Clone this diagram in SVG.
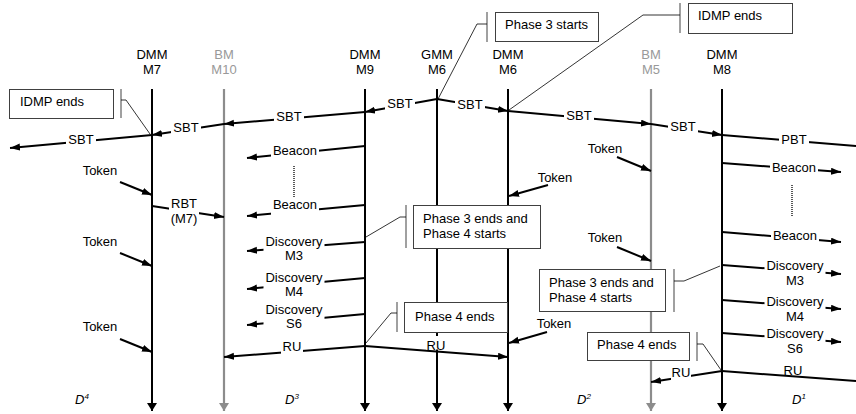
<svg xmlns="http://www.w3.org/2000/svg" width="856" height="414" viewBox="0 0 856 414">
<style>
.t{font-family:"Liberation Sans",Arial,Helvetica,sans-serif;font-size:13px;fill:#000}
.gt{fill:#999}
.c{text-anchor:middle}
.it{font-style:italic}
.ll{stroke:#000;stroke-width:2;marker-end:url(#lb)}
.llg{stroke:#8c8c8c;stroke-width:2.2;marker-end:url(#lg)}
.m{stroke:#000;stroke-width:2;fill:none}
.a{marker-end:url(#ab)}
.ldr{stroke:#000;stroke-width:0.8;fill:none}
.brk{stroke:#808080;stroke-width:1.5}
.box{fill:#fff;stroke:#404040;stroke-width:1}
.bg{fill:#fff}
.dot{stroke:#000;stroke-width:1.3;stroke-dasharray:1 1}
</style>
<defs>
<marker id="ab" markerUnits="userSpaceOnUse" markerWidth="11" markerHeight="8" refX="10" refY="3.5" orient="auto"><path d="M0,0 L10,3.5 L0,7 z" fill="#000"/></marker>
<marker id="lb" markerUnits="userSpaceOnUse" markerWidth="9" markerHeight="10" refX="8" refY="5" orient="auto"><path d="M0,0 L8,5 L0,10 z" fill="#000"/></marker>
<marker id="lg" markerUnits="userSpaceOnUse" markerWidth="9" markerHeight="10" refX="8" refY="5" orient="auto"><path d="M0,0 L8,5 L0,10 z" fill="#8c8c8c"/></marker>
</defs>

<g id="n-dmm-m7"><text class="t c" x="152" y="59">DMM</text><text class="t c" x="152" y="74">M7</text><line class="ll" x1="152" y1="89" x2="152" y2="411"/></g>
<g id="n-bm-m10"><text class="t c gt" x="224" y="59">BM</text><text class="t c gt" x="224" y="74">M10</text><line class="llg" x1="224" y1="89" x2="224" y2="411"/></g>
<g id="n-dmm-m9"><text class="t c" x="365" y="59">DMM</text><text class="t c" x="365" y="74">M9</text><line class="ll" x1="365" y1="89" x2="365" y2="411"/></g>
<g id="n-gmm-m6"><text class="t c" x="437" y="59">GMM</text><text class="t c" x="437" y="74">M6</text><line class="ll" x1="437" y1="89" x2="437" y2="411"/></g>
<g id="n-dmm-m6"><text class="t c" x="508" y="59">DMM</text><text class="t c" x="508" y="74">M6</text><line class="ll" x1="508" y1="89" x2="508" y2="411"/></g>
<g id="n-bm-m5"><text class="t c gt" x="651" y="59">BM</text><text class="t c gt" x="651" y="74">M5</text><line class="llg" x1="651" y1="89" x2="651" y2="411"/></g>
<g id="n-dmm-m8"><text class="t c" x="722" y="59">DMM</text><text class="t c" x="722" y="74">M8</text><line class="ll" x1="722" y1="89" x2="722" y2="411"/></g>

<g id="box-idmp-left"><rect class="box" x="9.5" y="89.5" width="104" height="29"/><text class="t" x="20" y="106">IDMP ends</text><line class="brk" x1="121" y1="89" x2="121" y2="118"/><path class="ldr" d="M121,100 H126 L150,134"/></g>
<g id="box-phase3-starts"><rect class="box" x="495.5" y="12.5" width="103" height="29"/><text class="t" x="505" y="28.5">Phase 3 starts</text><line class="brk" x1="487" y1="12" x2="487" y2="42"/><path class="ldr" d="M487,24 H477 L438,99"/></g>
<g id="box-idmp-right"><rect class="box" x="688.5" y="3.5" width="104" height="30"/><text class="t" x="698" y="19.5">IDMP ends</text><line class="brk" x1="680" y1="3" x2="680" y2="33"/><path class="ldr" d="M680,15 H643 L509,110"/></g>
<g id="box-phase34-mid"><rect class="box" x="413.5" y="205.5" width="127" height="43"/><text class="t" x="423" y="222.5">Phase 3 ends and</text><text class="t" x="423" y="237.5">Phase 4 starts</text><line class="brk" x1="406" y1="205" x2="406" y2="248"/><path class="ldr" d="M406,217 H400 L366,237"/></g>
<g id="box-phase4-mid"><rect class="box" x="404.5" y="302.5" width="103" height="30"/><text class="t" x="415" y="320.5">Phase 4 ends</text><line class="brk" x1="397" y1="302" x2="397" y2="332"/><path class="ldr" d="M397,313 H391 L366,343"/></g>
<g id="box-phase34-right"><rect class="box" x="539.5" y="269.5" width="126" height="42"/><text class="t" x="549" y="286.5">Phase 3 ends and</text><text class="t" x="549" y="301.5">Phase 4 starts</text><line class="brk" x1="674" y1="269" x2="674" y2="312"/><path class="ldr" d="M674,281 H684 L720,266"/></g>
<g id="box-phase4-right"><rect class="box" x="587.5" y="332.5" width="102" height="28"/><text class="t" x="597" y="348.5">Phase 4 ends</text><line class="brk" x1="697" y1="332" x2="697" y2="361"/><path class="ldr" d="M697,344 H703 L721,370"/></g>

<g id="connectors">
<line class="m a" x1="437" y1="99" x2="365" y2="112"/>
<line class="m a" x1="437" y1="99" x2="508" y2="111"/>
<line class="m a" x1="365" y1="112" x2="224" y2="124"/>
<line class="m a" x1="224" y1="124" x2="152" y2="135"/>
<line class="m a" x1="152" y1="135" x2="10" y2="148"/>
<line class="m a" x1="508" y1="111" x2="651" y2="124"/>
<line class="m a" x1="651" y1="124" x2="722" y2="135"/>
<line class="m" x1="722" y1="135" x2="856" y2="146"/>
<line class="m a" x1="365" y1="146" x2="247" y2="158"/>
<line class="m a" x1="365" y1="205" x2="247" y2="216"/>
<line class="m a" x1="152" y1="206" x2="224" y2="217"/>
<line class="m a" x1="365" y1="242" x2="247" y2="251"/>
<line class="m a" x1="365" y1="278" x2="247" y2="289"/>
<line class="m a" x1="365" y1="314" x2="247" y2="325"/>
<line class="m a" x1="365" y1="346" x2="224" y2="357"/>
<line class="m a" x1="365" y1="346" x2="508" y2="357"/>
<line class="m a" x1="722" y1="163" x2="841" y2="172"/>
<line class="m a" x1="722" y1="232" x2="841" y2="242"/>
<line class="m a" x1="722" y1="265" x2="841" y2="274"/>
<line class="m a" x1="722" y1="300" x2="841" y2="309"/>
<line class="m a" x1="722" y1="333" x2="841" y2="342"/>
<line class="m a" x1="722" y1="371" x2="651" y2="382"/>
<line class="m" x1="722" y1="371" x2="856" y2="381"/>
<line class="m a" x1="120" y1="182" x2="152" y2="195"/>
<line class="m a" x1="120" y1="253" x2="152" y2="266"/>
<line class="m a" x1="120" y1="339" x2="152" y2="352"/>
<line class="m a" x1="548" y1="185" x2="509" y2="196"/>
<line class="m a" x1="547" y1="332" x2="509" y2="343"/>
<line class="m a" x1="617" y1="157" x2="651" y2="171"/>
<line class="m a" x1="617" y1="247" x2="651" y2="261"/>
<line class="dot" x1="294" y1="166" x2="294" y2="197"/>
<line class="dot" x1="792" y1="185" x2="792" y2="216"/>

<rect class="bg" x="385" y="96" width="30" height="14"/>
<rect class="bg" x="455" y="97.5" width="30" height="14"/>
<rect class="bg" x="274" y="109" width="30" height="14"/>
<rect class="bg" x="171" y="120" width="30" height="14"/>
<rect class="bg" x="66" y="132" width="30" height="14"/>
<rect class="bg" x="564" y="108" width="30" height="14"/>
<rect class="bg" x="668" y="119" width="30" height="14"/>
<rect class="bg" x="779" y="132" width="30" height="14"/>
<rect class="bg" x="271" y="143" width="48" height="18"/>
<rect class="bg" x="271" y="197" width="48" height="19"/>
<rect class="bg" x="169" y="195" width="30" height="31"/>
<rect class="bg" x="263.5" y="234" width="61" height="29"/>
<rect class="bg" x="263.5" y="270" width="61" height="29"/>
<rect class="bg" x="263.5" y="302" width="61" height="29"/>
<rect class="bg" x="281" y="339" width="22" height="15"/>
<rect class="bg" x="426" y="336" width="20" height="13.5"/>
<rect class="bg" x="770" y="160" width="48" height="15"/>
<rect class="bg" x="771" y="228" width="48" height="16"/>
<rect class="bg" x="764.5" y="259" width="61" height="30"/>
<rect class="bg" x="764.5" y="294" width="61" height="30"/>
<rect class="bg" x="764.5" y="326" width="61" height="30"/>
<rect class="bg" x="671" y="366" width="20" height="15"/>

<text class="t c" x="400" y="107.6">SBT</text>
<text class="t c" x="470" y="109">SBT</text>
<text class="t c" x="289" y="120.6">SBT</text>
<text class="t c" x="186" y="131.6">SBT</text>
<text class="t c" x="81" y="143.6">SBT</text>
<text class="t c" x="579" y="119.6">SBT</text>
<text class="t c" x="683" y="130.6">SBT</text>
<text class="t c" x="794" y="143.6">PBT</text>
<text class="t c" x="295" y="154.6">Beacon</text>
<text class="t c" x="295" y="208.6">Beacon</text>
<text class="t c" x="184" y="207.6">RBT</text>
<text class="t c" x="184" y="222.6">(M7)</text>
<text class="t c" x="294" y="245.6">Discovery</text>
<text class="t c" x="294" y="259.8">M3</text>
<text class="t c" x="294" y="281.6">Discovery</text>
<text class="t c" x="294" y="295.8">M4</text>
<text class="t c" x="294" y="313.6">Discovery</text>
<text class="t c" x="294" y="327.8">S6</text>
<text class="t c" x="292" y="350.6">RU</text>
<text class="t c" x="436" y="349.5">RU</text>
<text class="t c" x="794" y="171.6">Beacon</text>
<text class="t c" x="795" y="239.6">Beacon</text>
<text class="t c" x="795" y="270">Discovery</text>
<text class="t c" x="795" y="285">M3</text>
<text class="t c" x="795" y="305.5">Discovery</text>
<text class="t c" x="795" y="320.5">M4</text>
<text class="t c" x="795" y="337.5">Discovery</text>
<text class="t c" x="795" y="352.5">S6</text>
<text class="t c" x="681" y="377">RU</text>
<text class="t c" x="793" y="375">RU</text>
<text class="t c" x="100" y="174.6">Token</text>
<text class="t c" x="100" y="245.6">Token</text>
<text class="t c" x="100" y="330.6">Token</text>
<text class="t c" x="555" y="181.6">Token</text>
<text class="t c" x="554" y="327.6">Token</text>
<text class="t c" x="605" y="152.6">Token</text>
<text class="t c" x="605" y="241.6">Token</text>
</g>

<g id="domains">
<text class="t it" x="75" y="404">D<tspan font-size="8" dy="-5">4</tspan></text>
<text class="t it" x="285" y="404">D<tspan font-size="8" dy="-5">3</tspan></text>
<text class="t it" x="577" y="404">D<tspan font-size="8" dy="-5">2</tspan></text>
<text class="t it" x="792" y="404">D<tspan font-size="8" dy="-5">1</tspan></text>
</g>
</svg>
